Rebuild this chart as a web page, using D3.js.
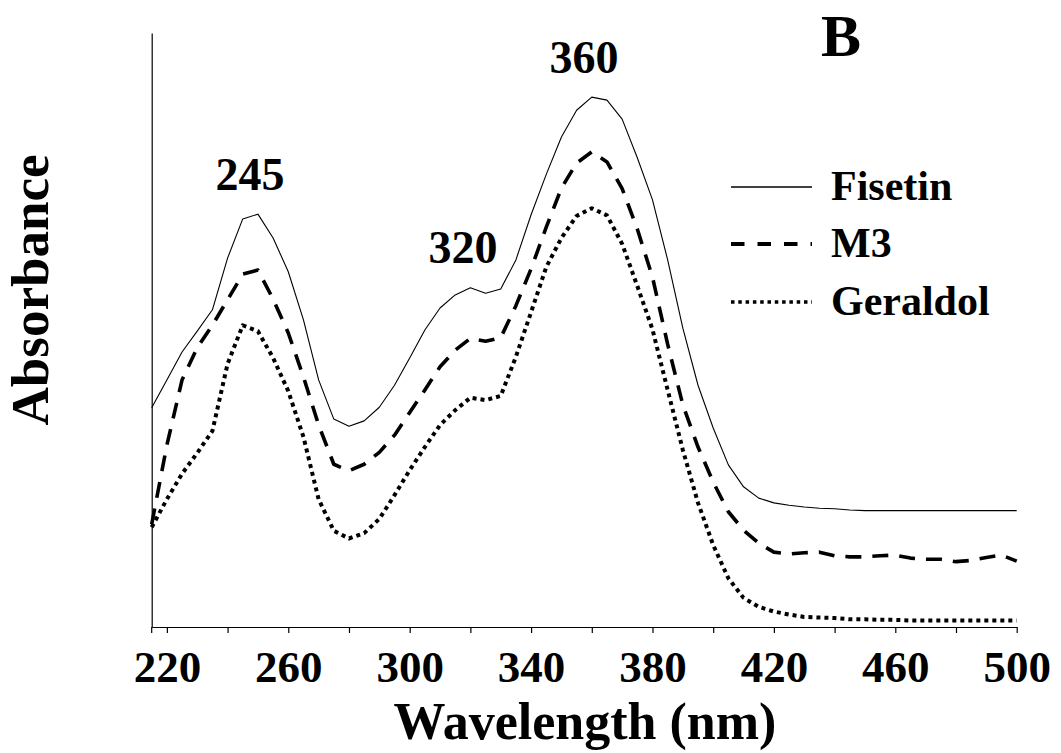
<!DOCTYPE html>
<html>
<head>
<meta charset="utf-8">
<script src="https://cdn.jsdelivr.net/npm/d3@7"></script>
<style>
  html, body { margin: 0; padding: 0; background: #fff; }
  svg { display: block; }
  text { font-family: "Liberation Serif", "Times New Roman", serif; font-weight: bold; fill: #000; }
</style>
</head>
<body>
<svg id="chart" width="1061" height="753"></svg>
<script>
// ---- data ----
const wavelengths = [215,220,225,230,235,240,245,250,255,260,265,270,275,280,285,290,295,300,305,310,315,320,325,330,335,340,345,350,355,360,365,370,375,380,385,390,395,400,405,410,415,420,425,430,435,440,445,450,455,460,465,470,475,480,485,490,495,500];
const fisetin = [0.369,0.416,0.463,0.498,0.534,0.621,0.687,0.695,0.655,0.598,0.517,0.416,0.350,0.338,0.347,0.370,0.407,0.453,0.500,0.537,0.559,0.571,0.562,0.569,0.618,0.694,0.762,0.825,0.870,0.892,0.887,0.855,0.790,0.719,0.618,0.503,0.407,0.335,0.273,0.236,0.217,0.209,0.205,0.202,0.200,0.199,0.197,0.196,0.196,0.196,0.196,0.196,0.196,0.196,0.196,0.196,0.196,0.196];
const m3 = [0.173,0.306,0.416,0.470,0.508,0.551,0.594,0.601,0.552,0.495,0.421,0.340,0.274,0.263,0.274,0.294,0.323,0.361,0.399,0.438,0.466,0.486,0.481,0.487,0.541,0.603,0.673,0.739,0.781,0.800,0.783,0.738,0.670,0.589,0.476,0.374,0.303,0.244,0.194,0.163,0.141,0.126,0.123,0.125,0.126,0.120,0.118,0.118,0.120,0.121,0.116,0.114,0.114,0.110,0.112,0.117,0.121,0.111];
const geraldol = [0.168,0.215,0.258,0.293,0.330,0.443,0.508,0.498,0.453,0.397,0.320,0.215,0.162,0.149,0.158,0.182,0.222,0.264,0.303,0.340,0.365,0.386,0.382,0.389,0.455,0.530,0.606,0.655,0.692,0.705,0.693,0.645,0.574,0.501,0.399,0.298,0.209,0.138,0.082,0.049,0.034,0.026,0.021,0.017,0.016,0.015,0.013,0.013,0.012,0.012,0.011,0.011,0.011,0.011,0.011,0.011,0.011,0.011];
const seriesNames = ["Fisetin", "M3", "Geraldol"];
const xTicks = [220,240,260,280,300,320,340,360,380,400,420,440,460,480,500];
const xTickLabels = [220,260,300,340,380,420,460,500];
const peakLabels = ["245", "320", "360"];
const panelLabel = "B";

// ---- layout ----
const svg = d3.select("#chart");
const x = d3.scaleLinear().domain([215, 500]).range([151.7, 1016.7]);
const y = d3.scaleLinear().domain([0, 1]).range([627, 33]);

const styles = [
  { width: 1.1, dash: null },
  { width: 3.6, dash: "16,11" },
  { width: 4, dash: "4,4" }
];
const seriesData = [fisetin, m3, geraldol];

// axes
const xAxis = d3.axisBottom(x)
  .tickValues(xTicks)
  .tickSize(6)
  .tickSizeOuter(0)
  .tickPadding(17)
  .tickFormat(d => xTickLabels.includes(d) ? String(d) : "");
const gx = svg.append("g").attr("transform", `translate(0,${y(0)})`).call(xAxis);
gx.select(".domain").attr("stroke", "#000").attr("stroke-width", 1.2);
gx.selectAll(".tick line").attr("stroke", "#000").attr("stroke-width", 1.2);
gx.selectAll(".tick text").style("font-size", "45px").style("font-family", "Liberation Serif, serif").style("font-weight", "bold");

const yAxis = d3.axisLeft(y).tickValues([]).tickSizeOuter(0);
const gy = svg.append("g").attr("transform", `translate(${x(215)},0)`).call(yAxis);
gy.select(".domain").attr("stroke", "#000").attr("stroke-width", 1.2);
svg.append("line").attr("x1", x(215)).attr("x2", x(215)).attr("y1", y(0)).attr("y2", y(0) + 6)
  .attr("stroke", "#000").attr("stroke-width", 1.2);

// lines
const line = d3.line().x((d, i) => x(wavelengths[i])).y(d => y(d));
seriesData.forEach((s, k) => {
  svg.append("path")
    .datum(s)
    .attr("d", line)
    .attr("fill", "none")
    .attr("stroke", "#000")
    .attr("stroke-width", styles[k].width)
    .attr("stroke-dasharray", styles[k].dash)
    .attr("stroke-linejoin", "round");
});

// peak labels
const peakPos = [[250, 190], [463, 263], [584, 73]];
peakLabels.forEach((t, i) => {
  svg.append("text").attr("x", peakPos[i][0]).attr("y", peakPos[i][1]).attr("text-anchor", "middle")
    .style("font-size", "46px").text(t);
});

// panel label
svg.append("text").attr("x", 841).attr("y", 56).attr("text-anchor", "middle")
  .style("font-size", "60px").text(panelLabel);

// legend
const legendY = [187, 244, 302];
const legendDash = [null, "13.5,13", "3.5,3.8"];
const legendW = [1.5, 4, 3.5];
seriesNames.forEach((n, i) => {
  svg.append("line").attr("x1", 731).attr("x2", 812).attr("y1", legendY[i]).attr("y2", legendY[i])
    .attr("stroke", "#000").attr("stroke-width", legendW[i]).attr("stroke-dasharray", legendDash[i]);
  svg.append("text").attr("x", 831).attr("y", legendY[i] + 13).style("font-size", "42px").text(n);
});

// axis titles
svg.append("text").attr("x", 585).attr("y", 739).attr("text-anchor", "middle")
  .style("font-size", "52px").text("Wavelength (nm)");
svg.append("text").attr("transform", "translate(48,290) rotate(-90)").attr("text-anchor", "middle")
  .style("font-size", "53px").text("Absorbance");
</script>
</body>
</html>
